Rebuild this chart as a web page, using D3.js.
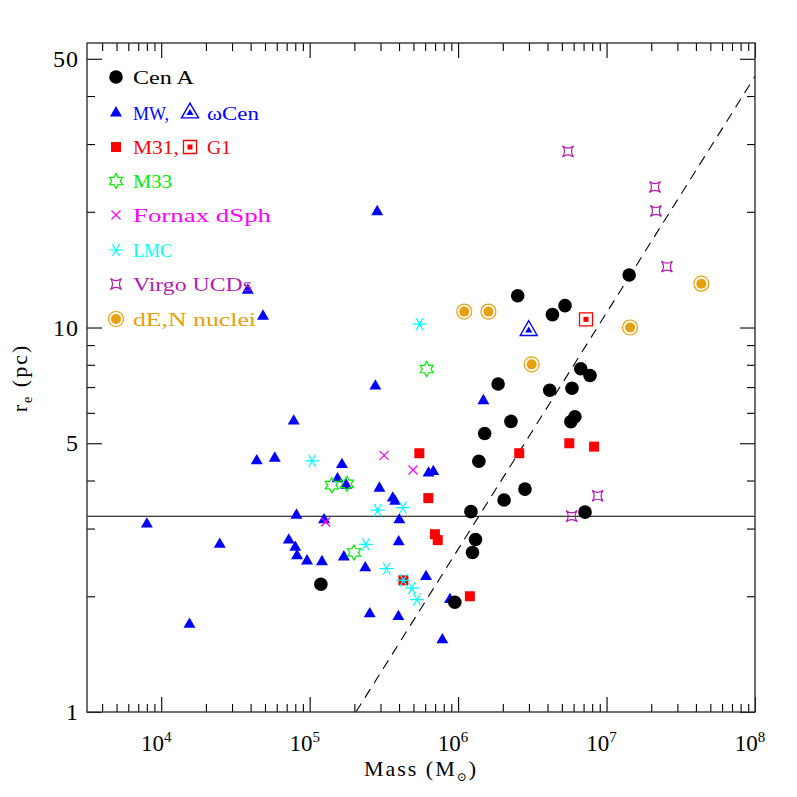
<!DOCTYPE html>
<html>
<head>
<meta charset="utf-8">
<script src="https://cdn.jsdelivr.net/npm/d3@7"></script>
<style>
  html, body { margin: 0; padding: 0; background: #fff; }
  svg text { font-family: "Liberation Serif", "DejaVu Serif", serif; }
</style>
</head>
<body>
<div id="chart"></div>
<script>
// [mass (Msun), r_e (pc)]
var cenA = [
    [1.19e5, 2.15], [9.5e5, 1.93], [1.25e6, 2.60], [1.31e6, 2.81], [1.22e6, 3.32],
    [2.04e6, 3.56], [2.82e6, 3.80], [1.38e6, 4.49], [1.51e6, 5.30], [2.27e6, 5.70],
    [1.86e6, 7.13], [2.52e6, 12.1], [4.32e6, 10.8], [5.25e6, 11.4], [4.14e6, 6.87],
    [5.85e6, 6.95], [6.12e6, 5.86], [5.75e6, 5.69], [6.70e6, 7.81], [7.74e6, 7.50],
    [7.16e6, 3.31], [1.42e7, 13.7]
];
var milkyWay = [
    [8.0e3, 3.08], [1.55e4, 1.69], [2.48e4, 2.73], [3.83e4, 12.5], [4.85e4, 10.7],
    [4.40e4, 4.50], [5.82e4, 4.57], [7.23e4, 2.80], [7.81e4, 5.71], [8.0e4, 2.68],
    [8.15e4, 3.25], [8.22e4, 2.55], [9.6e4, 2.47], [1.21e5, 2.46], [1.25e5, 3.16],
    [1.54e5, 4.04], [1.65e5, 4.40], [1.76e5, 3.89], [1.70e5, 2.53], [2.37e5, 2.37],
    [2.54e5, 1.80], [2.77e5, 7.04], [2.85e5, 20.0], [2.95e5, 3.82], [3.63e5, 3.60],
    [3.76e5, 3.53], [3.98e5, 2.77], [4.02e5, 3.16], [3.96e5, 1.77], [6.08e5, 2.25],
    [6.32e5, 4.18], [6.81e5, 4.22], [7.83e5, 1.54], [8.81e5, 1.96], [1.48e6, 6.45]
];
var omegaCen = [[2.99e6, 9.82]];
var m31 = [
    [5.48e5, 4.71], [6.30e5, 3.60], [6.98e5, 2.90], [7.29e5, 2.80], [4.28e5, 2.20],
    [1.20e6, 2.00], [2.58e6, 4.71], [5.61e6, 5.00], [8.24e6, 4.90]
];
var g1 = [[7.27e6, 10.5]];
var m33 = [[1.41e5, 3.89], [1.78e5, 3.92], [1.99e5, 2.60], [6.14e5, 7.80]];
var fornax = [[3.17e5, 4.65], [4.97e5, 4.26], [1.28e5, 3.12]];
var lmc = [
    [1.04e5, 4.50], [2.87e5, 3.35], [4.24e5, 3.40], [2.39e5, 2.73], [3.30e5, 2.36],
    [4.28e5, 2.20], [4.89e5, 2.10], [5.28e5, 1.96], [5.50e5, 10.2]
];
var virgoUCDs = [
    [5.50e6, 28.7], [2.12e7, 23.2], [2.15e7, 20.1], [2.55e7, 14.4], [8.71e6, 3.65],
    [5.82e6, 3.23]
];
var dENuclei = [[1.10e6, 11.0], [1.60e6, 11.0], [3.13e6, 8.02], [1.44e7, 10.0], [4.35e7, 13.0]];

var hLineR = 3.23;
var dashedLine = [[2.05e5, 1], [1e8, 45]];

var xMajor = [1e4, 1e5, 1e6, 1e7, 1e8];
var yMajor = [1, 5, 10, 50];
var yMinor = [2, 3, 4, 6, 7, 8, 9, 20, 30, 40];

(function(){
var W = 797, H = 797;
var pL = 87, pR = 755, pT = 43, pB = 712;

var x = d3.scaleLog().domain([Math.pow(10, 3.5), 1e8]).range([pL, pR]);
var y = d3.scaleLog().domain([1, Math.pow(10, 1.74)]).range([pB, pT]);

var xMinor = [];
for (var e = 3; e <= 7; e++) {
    for (var k = 2; k <= 9; k++) {
        var v = k * Math.pow(10, e);
        if (v >= x.domain()[0] && v <= x.domain()[1]) xMinor.push(v);
    }
}

var svg = d3.select("#chart").append("svg")
    .attr("width", W).attr("height", H);

// reference lines
svg.append("line")
    .attr("x1", x.range()[0]).attr("x2", x.range()[1])
    .attr("y1", y(hLineR)).attr("y2", y(hLineR))
    .attr("stroke", "#000").attr("stroke-width", 1.1);

svg.append("path")
    .datum(dashedLine)
    .attr("d", d3.line().x(function(d){ return x(d[0]); }).y(function(d){ return y(d[1]); }))
    .attr("fill", "none")
    .attr("stroke", "#000")
    .attr("stroke-width", 1.1)
    .attr("stroke-dasharray", "10,7");

// axes, ticks on all four sides pointing in
function addAxis(gen, values, size, tx, ty) {
    var g = svg.append("g")
        .attr("transform", "translate(" + tx + "," + ty + ")")
        .call(gen.tickValues(values).tickSize(-size).tickFormat(""));
    g.select(".domain").remove();
    g.selectAll(".tick line").attr("stroke", "#000").attr("stroke-width", 1.1);
}
addAxis(d3.axisBottom(x), xMajor, 15, 0, pB);
addAxis(d3.axisBottom(x), xMinor, 8, 0, pB);
addAxis(d3.axisTop(x), xMajor, 15, 0, pT);
addAxis(d3.axisTop(x), xMinor, 8, 0, pT);
addAxis(d3.axisLeft(y), yMajor, 15, pL, 0);
addAxis(d3.axisLeft(y), yMinor, 8, pL, 0);
addAxis(d3.axisRight(y), yMajor, 15, pR, 0);
addAxis(d3.axisRight(y), yMinor, 8, pR, 0);

svg.append("rect")
    .attr("x", pL).attr("y", pT)
    .attr("width", pR - pL).attr("height", pB - pT)
    .attr("fill", "none").attr("stroke", "#333").attr("stroke-width", 1.4);

// tick labels
var xl = svg.append("g").selectAll("text")
    .data(xMajor).enter().append("text")
    .attr("x", function(d){ return x(d) - 5; })
    .attr("y", pB + 39)
    .attr("text-anchor", "middle")
    .style("font-size", "23px");
xl.append("tspan").text("10");
xl.append("tspan")
    .attr("dy", -9)
    .style("font-size", "15px")
    .text(function(d){ return Math.round(Math.log10(d)); });

svg.append("g").selectAll("text")
    .data(yMajor).enter().append("text")
    .attr("x", pL - 8)
    .attr("y", function(d){ return y(d) + 8; })
    .attr("text-anchor", "end")
    .style("font-size", "24px")
    .style("letter-spacing", "1px")
    .text(function(d){ return d; });

// axis titles
var xt = svg.append("text")
    .attr("x", 421).attr("y", 776)
    .attr("text-anchor", "middle")
    .style("font-size", "22px")
    .style("letter-spacing", "2px");
xt.append("tspan").text("Mass (M");
xt.append("tspan").attr("dy", 5).style("font-size", "12px").text("\u2299");
xt.append("tspan").attr("dy", -5).text(")");

var yt = svg.append("text")
    .attr("transform", "translate(27,378) rotate(-90)")
    .attr("text-anchor", "middle")
    .style("font-size", "22px")
    .style("letter-spacing", "2px");
yt.append("tspan").text("r");
yt.append("tspan").attr("dy", 5).style("font-size", "14px").text("e");
yt.append("tspan").attr("dy", -5).text(" (pc)");

// marker shapes
var BLUE = "#0000ff", RED = "#ff0000", GREEN = "#00ee00", MAGENTA = "#ff00ff",
    CYAN = "#00ffff", PURPLE = "#b41cb4", ORANGE = "#e6a00c";

function starPath(ro, ri) {
    var pts = [];
    for (var i = 0; i < 12; i++) {
        var a = -Math.PI / 2 + i * Math.PI / 6;
        var r = i % 2 === 0 ? ro : ri;
        pts.push([r * Math.cos(a), r * Math.sin(a)]);
    }
    return "M" + pts.join("L") + "Z";
}
function ucdPath(r) {
    var c = r * 0.25;
    return "M" + (-r) + "," + (-r) + "Q0," + (-c) + " " + r + "," + (-r) +
        "Q" + c + ",0 " + r + "," + r + "Q0," + c + " " + (-r) + "," + r +
        "Q" + (-c) + ",0 " + (-r) + "," + (-r) + "Z";
}
function crossPath(r) {
    return "M" + (-r) + "," + (-r) + "L" + r + "," + r + "M" + (-r) + "," + r + "L" + r + "," + (-r);
}
function asteriskPath(r) {
    var s = "";
    [0, 60, 120].forEach(function(a){
        var c = Math.cos(a * Math.PI / 180) * r, t = Math.sin(a * Math.PI / 180) * r;
        s += "M" + (-c) + "," + (-t) + "L" + c + "," + t;
    });
    return s;
}

var drawers = {
    cenA: function(g, c) {
        g.append("path").attr("d", d3.symbol(d3.symbolCircle, 145)()).attr("fill", c);
    },
    mw: function(g, c) {
        g.append("path").attr("d", d3.symbol(d3.symbolTriangle, 62)()).attr("fill", c);
    },
    omega: function(g, c) {
        g.append("path").attr("d", d3.symbol(d3.symbolTriangle, 125)()).attr("fill", "none")
            .attr("stroke", c).attr("stroke-width", 1.4);
        g.append("path").attr("d", d3.symbol(d3.symbolTriangle, 22)()).attr("fill", c);
    },
    m31: function(g, c) {
        g.append("path").attr("d", d3.symbol(d3.symbolSquare, 100)()).attr("fill", c);
    },
    g1: function(g, c) {
        g.append("path").attr("d", d3.symbol(d3.symbolSquare, 170)()).attr("fill", "none")
            .attr("stroke", c).attr("stroke-width", 1.3);
        g.append("path").attr("d", d3.symbol(d3.symbolSquare, 25)()).attr("fill", c);
    },
    m33: function(g, c) {
        g.append("path").attr("d", starPath(7.5, 4.3)).attr("fill", "none")
            .attr("stroke", c).attr("stroke-width", 1.2);
    },
    fornax: function(g, c) {
        g.append("path").attr("d", crossPath(4.5)).attr("stroke", c).attr("stroke-width", 1.2);
    },
    lmc: function(g, c) {
        g.append("path").attr("d", asteriskPath(7)).attr("stroke", c).attr("stroke-width", 1.2);
    },
    ucd: function(g, c) {
        g.append("path").attr("d", ucdPath(5.5)).attr("fill", "none")
            .attr("stroke", c).attr("stroke-width", 1.2);
    },
    nuc: function(g, c) {
        g.append("circle").attr("r", 7.5).attr("fill", "none")
            .attr("stroke", c).attr("stroke-width", 1.2);
        g.append("circle").attr("r", 5).attr("fill", c);
    }
};

var groups = [
    { data: dENuclei, kind: "nuc", color: ORANGE },
    { data: virgoUCDs, kind: "ucd", color: PURPLE },
    { data: milkyWay, kind: "mw", color: BLUE },
    { data: omegaCen, kind: "omega", color: BLUE },
    { data: m31, kind: "m31", color: RED },
    { data: g1, kind: "g1", color: RED },
    { data: cenA, kind: "cenA", color: "#000" },
    { data: m33, kind: "m33", color: GREEN },
    { data: fornax, kind: "fornax", color: MAGENTA },
    { data: lmc, kind: "lmc", color: CYAN }
];

groups.forEach(function(grp){
    svg.append("g").attr("class", grp.kind)
        .selectAll("g")
        .data(grp.data).enter().append("g")
        .attr("transform", function(d){ return "translate(" + x(d[0]) + "," + y(d[1]) + ")"; })
        .each(function(){ drawers[grp.kind](d3.select(this), grp.color); });
});

// legend
var legendRows = [
    { items: [["cenA", "Cen A", 61]], color: "#000" },
    { items: [["mw", "MW,", 36], ["omega", "\u03c9Cen", 52]], color: BLUE },
    { items: [["m31", "M31,", 46], ["g1", "G1", 24]], color: RED },
    { items: [["m33", "M33", 39]], color: GREEN },
    { items: [["fornax", "Fornax dSph", 138]], color: MAGENTA },
    { items: [["lmc", "LMC", 39]], color: CYAN },
    { items: [["ucd", "Virgo UCDs", 119]], color: PURPLE },
    { items: [["nuc", "dE,N nuclei", 123]], color: ORANGE }
];
var rowY = [77, 113, 147, 181, 215, 250, 284, 319];

legendRows.forEach(function(row, i){
    row.items.forEach(function(it, j){
        var sx = j === 0 ? 116 : 190;
        var tx = j === 0 ? 133 : 207;
        var g = svg.append("g").attr("transform", "translate(" + sx + "," + rowY[i] + ")");
        drawers[it[0]](g, row.color);
        svg.append("text")
            .attr("x", tx).attr("y", rowY[i] + 7)
            .attr("fill", row.color)
            .attr("textLength", it[2])
            .attr("lengthAdjust", "spacingAndGlyphs")
            .style("font-size", "19px")
            .text(it[1]);
    });
});
})();
</script>
</body>
</html>
